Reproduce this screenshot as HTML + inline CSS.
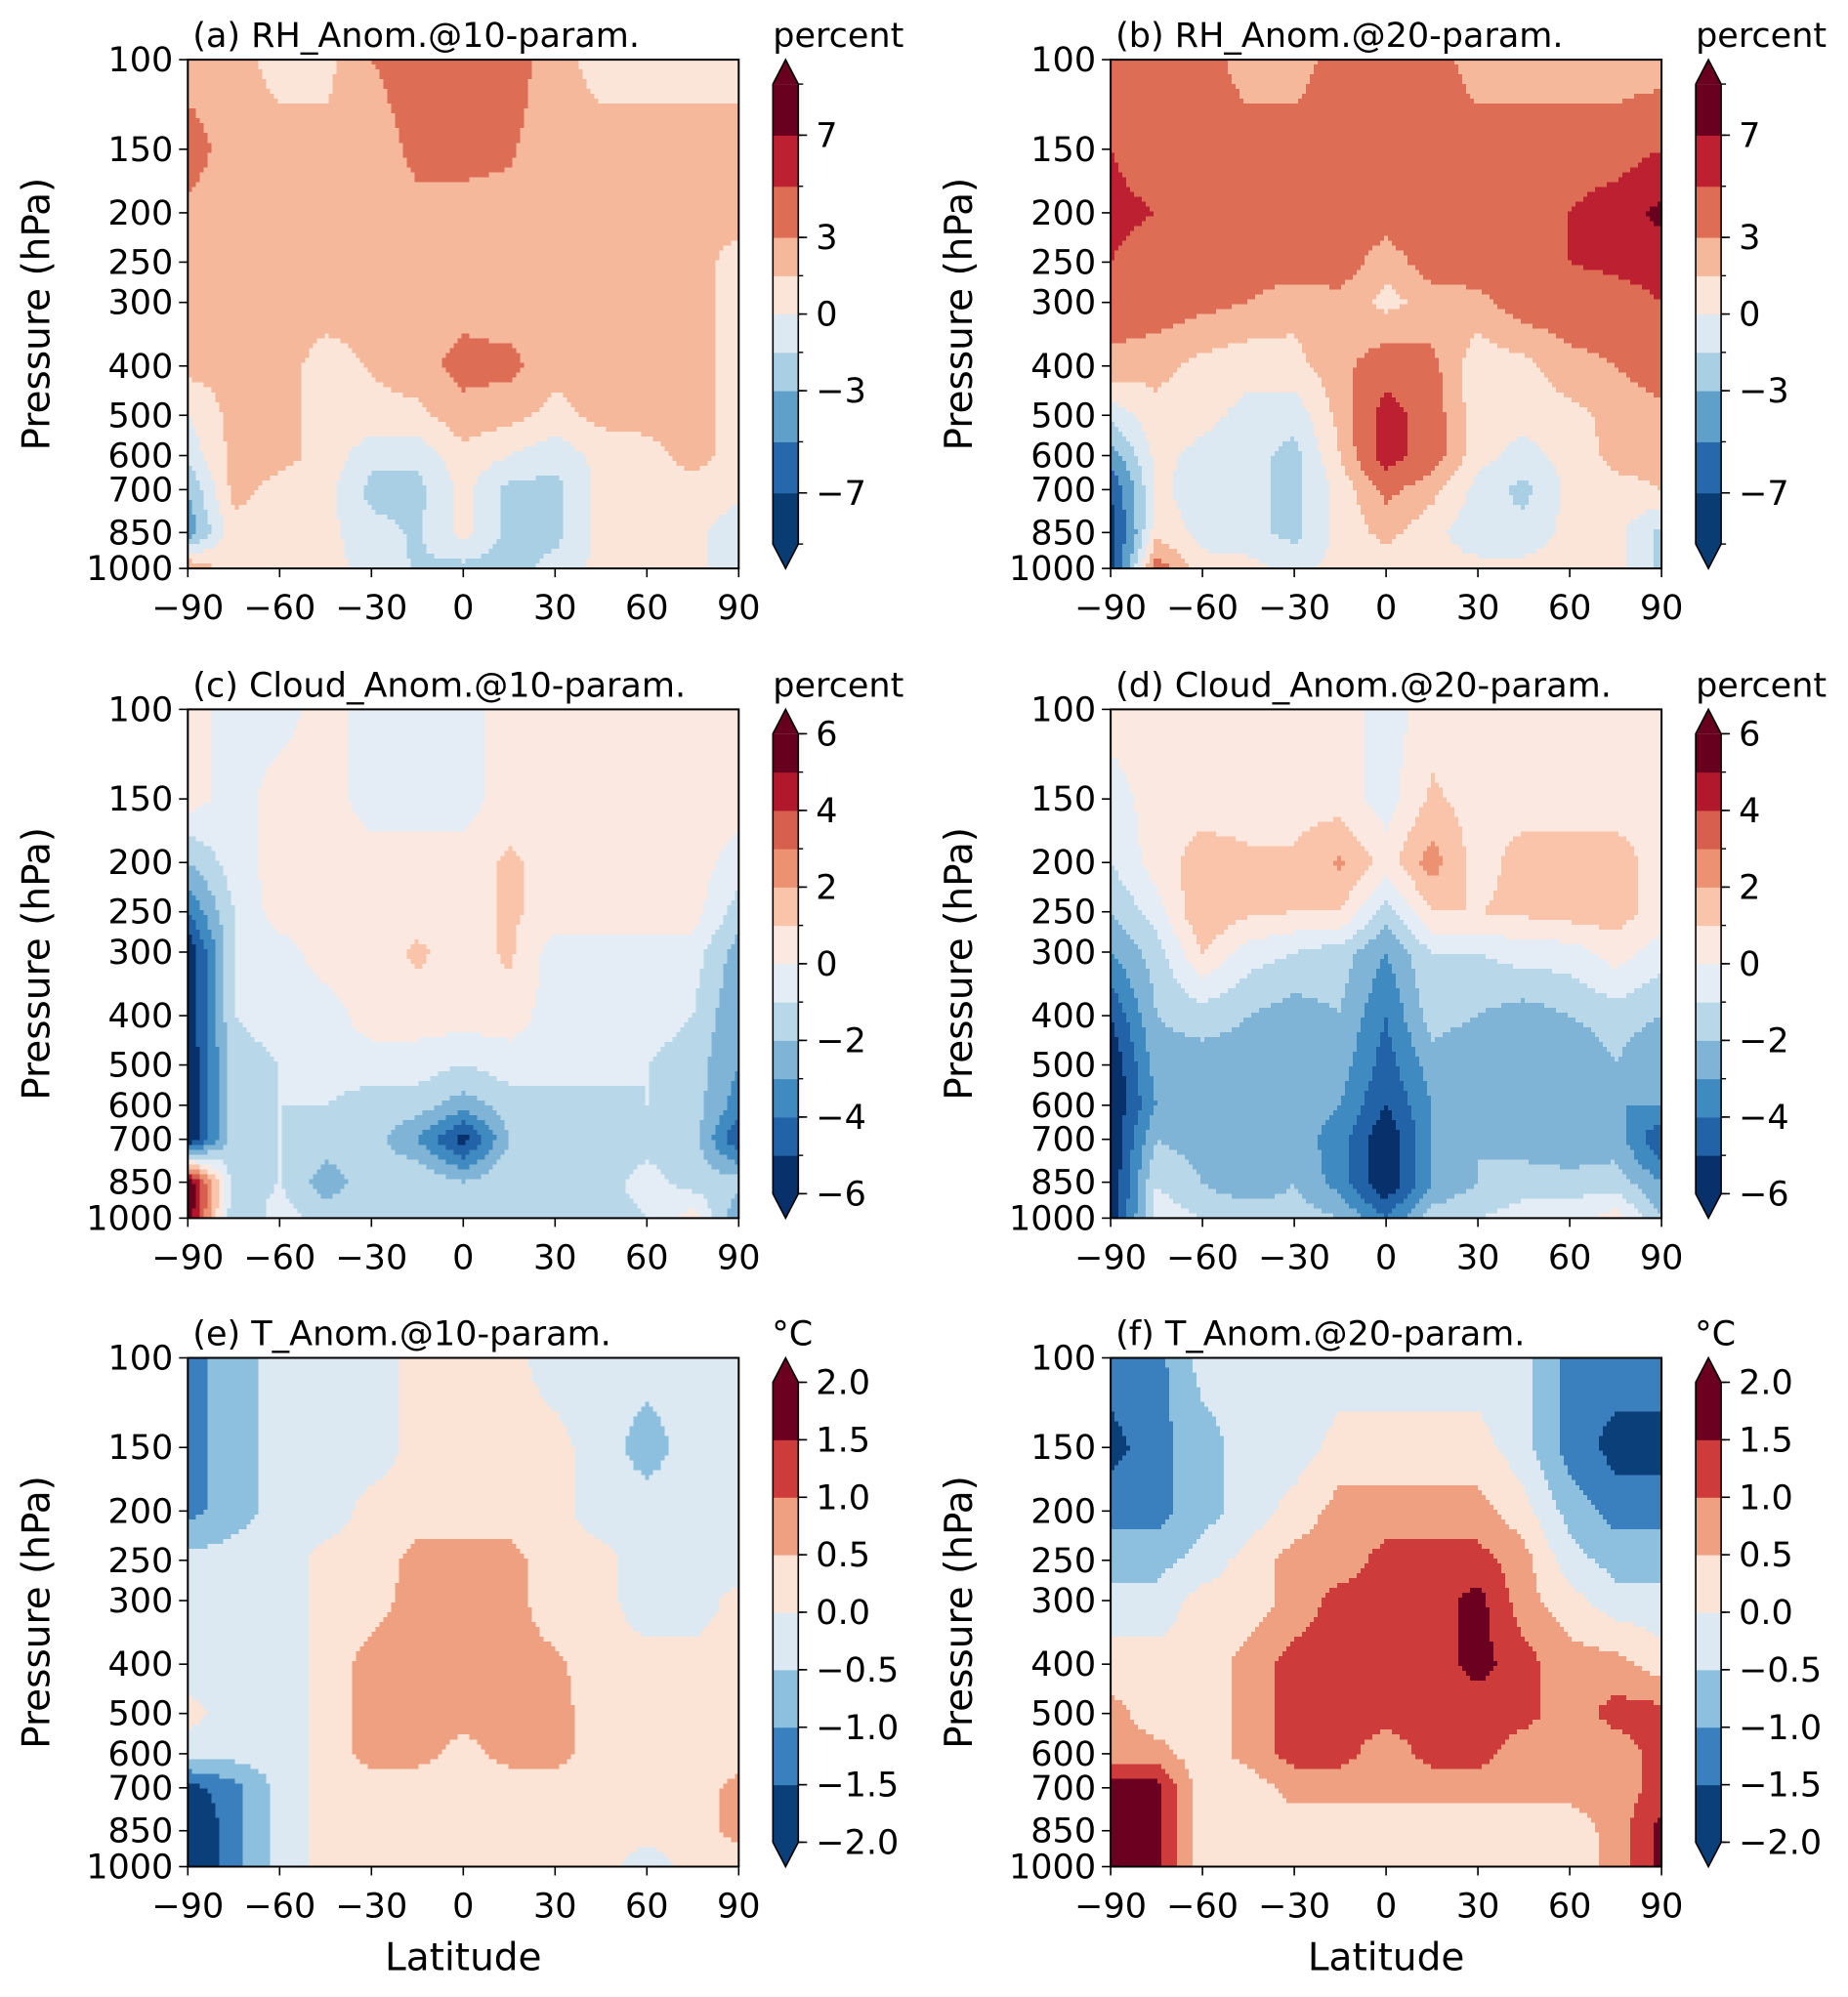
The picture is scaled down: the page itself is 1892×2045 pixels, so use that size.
<!DOCTYPE html>
<html><head><meta charset="utf-8"><style>html,body{margin:0;padding:0;background:#fff}svg text{font-family:"DejaVu Sans","Liberation Sans",sans-serif;fill:#000}</style></head>
<body>
<svg id="fig" xmlns="http://www.w3.org/2000/svg" width="1892" height="2040" viewBox="0 0 1892 2040">
<rect x="0" y="0" width="1892" height="2040" fill="#fff"/>
</svg>
<script>
const lats = [-90,-75,-60,-45,-30,-15,0,15,30,45,60,75,90];
const pLevels = [100,150,200,250,300,400,500,600,700,850,1000];
const latTicks = [-90,-60,-30,0,30,60,90];
const rhLevels = [-9,-7,-5,-3,-1.5,0,1.5,3,5,7,9];
const rhTicks = [7,3,0,-3,-7];
const cloudLevels = [-6,-5,-4,-3,-2,-1,0,1,2,3,4,5,6];
const cloudTicks = [6,4,2,0,-2,-4,-6];
const tLevels = [-2,-1.5,-1,-0.5,0,0.5,1,1.5,2];
const tTicks = [2,1.5,1,0.5,0,-0.5,-1,-1.5,-2];
const rhA = [
[2,2,1,1,3,4,4,4,2,1,1,1,1],
[4,2,2,2,2,3.5,3.5,3.2,2,2,2,2,2],
[2.5,2,2,2,2,2.5,2.5,2.5,2,2,2,2,2],
[2,2,2,2,2,2,2,2,2,2,2,2,1],
[2,2,2,2,2,2,2.5,2,2,2,2,2,1],
[2,2,2,1,1.6,2.5,3.5,3.5,2,2,2,2,1],
[0,2,2,1,1,1,2.5,2,1,2,2,2,1],
[-1,2,2,1,-1,-1,1,0,-1,0.5,1,2,1],
[-3,2,1,0.5,-2,-2,0.5,-2,-2,0.5,1,1,0.5],
[-4,1,0.5,0.5,-1,-1.7,0.5,-2,-2,0.5,0.5,0.5,-1],
[3,0.5,0.5,0.5,-0.5,-1.7,-2,-2,-1,0.5,0.5,0.5,-1]];
const rhB = [
[4,4,4,2,2,4,4.5,4,2,2,2,2,2],
[5,4,4,4,4,4,4,4,4,4,4,4,5],
[5.5,5,4,4,4,4.5,4,5,4,4,5,6,7.5],
[5,4,4,4,4,4,2,4,4,4,5,5.5,6],
[4,4,3.5,3,2,2.5,1,2,2.5,4,4,4,5],
[2.5,2,1,0.5,1,2.5,4,3.5,0.5,1,2.5,3,4],
[-1,1,0.5,-0.5,-1,2,6,4,0.5,0.5,1,2,2.5],
[-4,0.5,-0.5,-1,-2,1.5,6,4,0.5,-0.5,0.5,2,2],
[-7,0.5,-1,-1,-2,0.5,3.5,2,-0.5,-2,0.5,1,1.5],
[-8,1,-0.5,-1,-2,0.5,2,0.5,-1,-1,0.5,0.5,-2],
[-8,4,0.5,0.5,-0.5,0.5,0.5,0.5,0.5,0.5,0.5,0.5,-2]];
const cloudC = [
[0.5,-0.5,-0.5,0.5,-0.5,-0.5,-0.5,0.5,0.5,0.5,0.5,0.5,0.5],
[0.5,-0.5,0.5,0.5,-0.5,-0.5,-0.5,0.5,0.5,0.5,0.5,0.5,0.5],
[-2,-0.5,0.5,0.5,0.5,0.5,0.5,1.2,0.5,0.5,0.5,0.5,-0.5],
[-4,-1,0.5,0.5,0.5,0.5,0.5,1.2,0.5,0.5,0.5,0.5,-1.5],
[-6,-1,-0.5,0.5,0.5,1.2,0.5,1.2,-0.5,-0.5,-0.5,-0.5,-2.5],
[-6,-1,-0.5,-0.5,0.5,0.5,0.5,0.5,-0.5,-0.5,-0.5,-1,-3],
[-6,-1.5,-1,-0.5,-0.5,-0.5,-1,-0.5,-0.5,-0.5,-1,-1.5,-3],
[-6,-1.5,-1,-1,-1.5,-1.5,-2.5,-1.5,-1.5,-1.5,-1,-1.5,-3.5],
[-6,-1.5,-1,-1.5,-1.5,-3,-5.5,-2,-1.5,-1.5,-1.5,-1.5,-5],
[6,-1.5,-1,-2.5,-1.5,-1,-2,-1,-2,-1.5,-0.5,-1.5,-1.5],
[6,-2,-0.5,-1.5,-1.5,-2,-2,-1.5,-2,-1.5,-1,0.5,-3]];
const cloudD = [
[0.5,0.5,0.5,0.5,0.5,0.5,-0.5,0.5,0.5,0.5,0.5,0.5,0.5],
[-0.5,0.5,0.5,0.5,0.5,0.5,-0.5,1.2,0.5,0.5,0.5,0.5,0.5],
[-1,0.5,1.5,1.2,1.2,2.2,0.5,2.5,0.5,1.5,1.5,1.5,0.5],
[-2,-0.5,2,1.2,1,1,-1.5,1,1,1.2,1.5,1.5,0.5],
[-3,-1.5,1,-0.5,-1,-1.5,-3,-1,-1,-0.5,-0.5,0.5,-0.5],
[-5,-2,-1.5,-2,-2.5,-2,-4,-1.5,-2,-2.5,-2,-1.5,-2],
[-6,-2.5,-2.5,-2.5,-2.5,-2.5,-4.5,-2.5,-3,-3,-3,-2,-3],
[-6,-3,-3,-3,-2.5,-3,-5,-3,-2,-3,-3,-3,-3],
[-6,-2,-2.5,-3,-2.5,-3.5,-6,-3,-2,-2.5,-3,-2.5,-5],
[-6,-1,-2,-3,-2,-3.5,-6,-3,-2,-1.5,-1.5,-1.5,-3],
[-6,-0.5,-1,-1,-1.5,-2,-4,-1.5,-1,-0.5,-0.5,0.5,-2]];
const tE = [
[-1.2,-0.7,-0.3,-0.3,-0.3,0.2,0.2,0.2,-0.3,-0.3,-0.3,-0.3,-0.3],
[-1.2,-0.7,-0.3,-0.3,-0.3,0.2,0.2,0.2,0.2,-0.3,-0.7,-0.3,-0.3],
[-1.2,-0.7,-0.3,-0.3,0.2,0.2,0.2,0.2,0.2,-0.3,-0.3,-0.3,-0.3],
[-0.3,-0.3,-0.3,0.2,0.2,0.7,0.7,0.7,0.2,0.2,-0.3,-0.3,-0.3],
[-0.3,-0.3,-0.3,0.2,0.3,0.7,0.7,0.7,0.2,0.2,-0.3,-0.3,0.2],
[-0.3,-0.3,-0.3,0.2,0.7,0.7,0.7,0.7,0.6,0.2,0.2,0.2,0.2],
[0.2,-0.3,-0.3,0.2,0.7,0.7,0.7,0.7,0.7,0.2,0.2,0.2,0.2],
[-0.3,-0.3,-0.3,0.2,0.7,0.7,0.3,0.7,0.7,0.2,0.2,0.2,0.2],
[-1.7,-1.2,-0.3,0.2,0.2,0.2,0.2,0.2,0.2,0.2,0.2,0.2,0.7],
[-2.2,-1.2,-0.3,0.2,0.2,0.2,0.2,0.2,0.2,0.2,0.2,0.2,0.7],
[-2.2,-1.2,-0.3,0.2,0.2,0.2,0.2,0.2,0.2,0.2,-0.3,0.2,0.2]];
const tF = [
[-1.2,-1.2,-0.3,-0.3,-0.3,-0.3,-0.3,-0.3,-0.3,-0.3,-1.2,-1.2,-1.2],
[-1.7,-1.2,-0.7,-0.3,-0.3,0.2,0.2,0.2,0.2,-0.3,-1.2,-1.7,-1.7],
[-1.2,-1.2,-0.7,-0.3,0.2,0.7,0.7,0.7,0.7,0.2,-0.7,-1.2,-1.2],
[-0.7,-0.7,-0.3,0.2,0.7,0.7,1.2,1.2,1.2,0.7,-0.3,-0.7,-0.7],
[-0.3,-0.3,0.2,0.2,0.7,1.2,1.2,1.2,1.7,0.7,0.2,-0.3,-0.3],
[0.2,0.2,0.2,0.7,1.2,1.2,1.2,1.2,1.7,1.2,0.7,0.7,0.2],
[0.7,0.2,0.2,0.7,1.2,1.2,1.2,1.2,1.2,1.2,0.7,1.2,1.2],
[0.7,0.7,0.2,0.7,1.2,1.2,0.7,1.2,1.2,0.7,0.7,0.7,1.2],
[1.7,1.7,0.2,0.2,0.7,0.7,0.7,0.7,0.7,0.7,0.7,0.7,1.2],
[1.7,1.7,0.2,0.2,0.2,0.2,0.2,0.2,0.2,0.2,0.2,0.7,1.7],
[1.7,1.7,0.2,0.2,0.2,0.2,0.2,0.2,0.2,0.2,0.2,0.7,1.7]];

const rhColors = ['#083c73','#2768ad','#5fa0cb','#a9cfe4','#dde9f2','#fbe4d8','#f6b89a','#de6d55','#bd2131','#6a0020'];
const cloudColors = ['#08306b','#2263a8','#3f8ac0','#7fb4d6','#b8d7e8','#e4edf5','#fbe9e1','#f9c4a9','#ec9273','#d6604d','#b2182b','#67001f'];
const tColors = ['#0b3f7a','#3a7fbe','#8cc0de','#dce9f3','#fbe3d5','#efa080','#cd3b3a','#6b0020'];

const NS='http://www.w3.org/2000/svg';
const svg=document.getElementById('fig');
function mk(tag,attrs,parent){const e=document.createElementNS(NS,tag);for(const k in attrs)e.setAttribute(k,attrs[k]);(parent||svg).appendChild(e);return e;}
function txt(s,x,y,size,anchor,parent,extra){const t=mk('text',Object.assign({x:x,y:y,'font-size':size,'text-anchor':anchor||'start'},extra||{}),parent);t.textContent=s;return t;}
function fmt(v,dec){let s=dec?v.toFixed(1):String(v);return s.replace('-','\u2212');}

const PW=564, PH=521;
const FS=35;
function panel(o){
  const g=mk('g',{});
  
  
  const x0=o.x,y0=o.y;
  const xS=lat=>x0+(lat+90)/180*PW;
  const yS=p=>y0+(Math.log10(p)-2)*PH;
  const logs=pLevels.map(p=>Math.log10(p));
  function val(lat,lp){
    let fi=(lat+90)/15;let i=Math.min(Math.floor(fi),lats.length-2);let tx=fi-i;
    let j=0;while(j<logs.length-2&&lp>logs[j+1])j++;
    let ty=(lp-logs[j])/(logs[j+1]-logs[j]);ty=Math.max(0,Math.min(1,ty));
    const d=o.data;
    return (d[j][i]*(1-tx)+d[j][i+1]*tx)*(1-ty)+(d[j+1][i]*(1-tx)+d[j+1][i+1]*tx)*ty;
  }
  function cidx(v){const L=o.levels;let k=0;while(k<L.length-2&&v>=L[k+1])k++;if(v<L[0])k=0;return k;}
  const field=mk('g',{'shape-rendering':'crispEdges'},g);
  
  
  const NX=141,NY=104;
  for(let r=0;r<NY;r++){
    const lp=2+(r+0.5)/NY;
    const ya=y0+r/NY*PH, yb=y0+(r+1)/NY*PH;
    let start=0,cur=-1;
    for(let c=0;c<=NX;c++){
      let k=-2;
      if(c<NX){const lat=-90+(c+0.5)/NX*180;k=cidx(val(lat,lp));}
      if(c===0){cur=k;start=0;continue;}
      if(k!==cur){
        const xa=x0+start/NX*PW, xb=x0+c/NX*PW;
        const rc=mk('rect',{x:xa.toFixed(2),y:ya.toFixed(2),width:(xb-xa+0.6).toFixed(2),height:(yb-ya+0.6).toFixed(2),fill:o.colors[cur]},field);
        
        
        cur=k;start=c;
      }
    }
  }
  const fr=mk('rect',{x:x0,y:y0,width:PW,height:PH,fill:'none',stroke:'#000','stroke-width':2},g);
  
  
  pLevels.forEach(p=>{
    const y=yS(p);
    mk('line',{x1:x0-9,x2:x0,y1:y,y2:y,stroke:'#000','stroke-width':1.6},g);
    const t=txt(String(p),x0-15,y+12,FS,'end',g);
    
    
  });
  latTicks.forEach(l=>{
    const x=xS(l);
    mk('line',{x1:x,x2:x,y1:y0+PH,y2:y0+PH+9,stroke:'#000','stroke-width':1.6},g);
    const t=txt(fmt(l),x,y0+PH+52,FS,'middle',g);
    
    
  });
  const tt=txt(o.title,x0+5,y0-13,FS,'start',g);
  
  
  const yl=txt('Pressure (hPa)',0,0,39,'middle',g,{transform:`translate(${x0-142},${y0+PH/2}) rotate(-90)`});
  
  
  if(o.xlabel){const xl=txt('Latitude',x0+PW/2,y0+PH+106,39,'middle',g);
    
    }
  const cb=mk('g',{},g);
  
  
  const cx=x0+PW+35, cw=26, ext=25, bt=y0+ext, bh=PH-2*ext;
  const L=o.levels, n=L.length-1;
  const yv=v=>bt+(L[n]-v)/(L[n]-L[0])*bh;
  for(let k=0;k<n;k++){
    const r=mk('rect',{x:cx,y:yv(L[k+1]),width:cw,height:yv(L[k])-yv(L[k+1])+0.5,fill:o.colors[k]},cb);
    
    
  }
  mk('polygon',{points:`${cx},${bt} ${cx+cw/2},${y0} ${cx+cw},${bt}`,fill:o.colors[n-1]},cb);
  mk('polygon',{points:`${cx},${bt+bh} ${cx+cw/2},${y0+PH} ${cx+cw},${bt+bh}`,fill:o.colors[0]},cb);
  mk('polygon',{points:`${cx},${bt} ${cx+cw/2},${y0} ${cx+cw},${bt} ${cx+cw},${bt+bh} ${cx+cw/2},${y0+PH} ${cx},${bt+bh}`,fill:'none',stroke:'#000','stroke-width':1.6},cb);
  L.forEach(v=>{const y=yv(v);mk('line',{x1:cx+cw,x2:cx+cw+5,y1:y,y2:y,stroke:'#000','stroke-width':1.4},cb);});
  o.ticks.forEach(v=>{
    const y=yv(v);
    mk('line',{x1:cx+cw,x2:cx+cw+9,y1:y,y2:y,stroke:'#000','stroke-width':1.6},cb);
    const t=txt(fmt(v,o.dec),cx+cw+18,y+12,FS,'start',cb);
    
    
  });
  const ul=txt(o.unit,o.unit==='°C'?cx+cw/2-14:cx+cw/2+54,y0-13,FS,o.unit==='°C'?'start':'middle',cb);
  
  
}
const X1=192.3, X2=1137.1, Y1=61.1, Y2=726.4, Y3=1390.5;
panel({name:'panel-a-rh-10',x:X1,y:Y1,data:rhA,levels:rhLevels,colors:rhColors,ticks:rhTicks,title:'(a) RH_Anom.@10-param.',unit:'percent'});
panel({name:'panel-b-rh-20',x:X2,y:Y1,data:rhB,levels:rhLevels,colors:rhColors,ticks:rhTicks,title:'(b) RH_Anom.@20-param.',unit:'percent'});
panel({name:'panel-c-cloud-10',x:X1,y:Y2,data:cloudC,levels:cloudLevels,colors:cloudColors,ticks:cloudTicks,title:'(c) Cloud_Anom.@10-param.',unit:'percent'});
panel({name:'panel-d-cloud-20',x:X2,y:Y2,data:cloudD,levels:cloudLevels,colors:cloudColors,ticks:cloudTicks,title:'(d) Cloud_Anom.@20-param.',unit:'percent'});
panel({name:'panel-e-t-10',x:X1,y:Y3,data:tE,levels:tLevels,colors:tColors,ticks:tTicks,title:'(e) T_Anom.@10-param.',unit:'°C',dec:true,xlabel:true});
panel({name:'panel-f-t-20',x:X2,y:Y3,data:tF,levels:tLevels,colors:tColors,ticks:tTicks,title:'(f) T_Anom.@20-param.',unit:'°C',dec:true,xlabel:true});
</script>
</body></html>
